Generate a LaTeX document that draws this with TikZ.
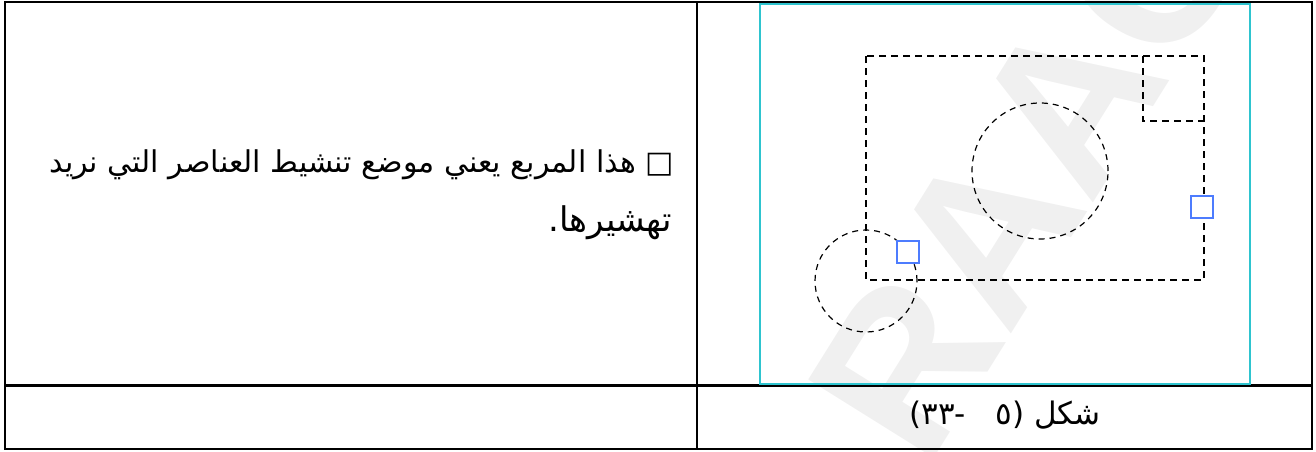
\documentclass[tikz,border=0pt]{standalone}
\usepackage{fontspec}
\usepackage{xcolor}
\usetikzlibrary{positioning,calc}
\TeXXeTstate=1
\newfontfamily\arabicfont[Script=Arabic]{DejaVu Sans}
\newfontfamily\markfont{Liberation Sans}
\definecolor{ink}{HTML}{000000}
\definecolor{frame}{HTML}{2EC4CF}
\definecolor{grip}{HTML}{4D7CFE}
\definecolor{wmark}{HTML}{F0F0F0}
\tikzset{
  cell/.style={draw=ink,line width=2.2pt},
  shot/.style={draw=frame,line width=1.8pt},
  outline/.style={draw=ink,line width=1.6pt,dash pattern=on 7pt off 5pt},
  ring/.style={draw=ink,line width=1.2pt,dash pattern=on 6pt off 5pt},
  handle/.style={draw=grip,fill=white,line width=2pt,minimum size=22pt,inner sep=0pt},
  note/.style={font=\arabicfont\fontsize{30}{36}\selectfont,inner sep=0pt},
  caption/.style={font=\arabicfont\fontsize{31}{36}\selectfont,inner sep=0pt},
  stamp/.style={font=\markfont\bfseries\fontsize{215}{215}\selectfont,text=wmark,inner sep=0pt}
}
\begin{document}
\begin{tikzpicture}[x=1pt,y=-1pt]
  \useasboundingbox (0,0) rectangle (1316,452);
  % watermark
  \begin{scope}
    \clip (0,0) rectangle (1316,452);
    \node[stamp,rotate=58] (mark) at (1028,168) {RAAC};
  \end{scope}
  % table
  \draw[cell] (5,2) rectangle (1312,449);
  \draw[cell] (697,2) -- (697,449);
  \draw[cell] (5,385.5) -- (1312,385.5);
  % screenshot
  \draw[shot] (760,4) rectangle (1250,384);
  \draw[outline] (866,56) rectangle (1204,280);
  \draw[outline] (1143,56) -- (1143,121) -- (1204,121);
  \draw[ring] (1040,171) circle[radius=68pt];
  \draw[ring] (866,281) circle[radius=51pt];
  \node[handle] (gripL) at (908,252) {};
  \node[handle] (gripR) at (1202,206.5) {};
  % texts
  \node[note,anchor=base east] (lineA) at (674,172) {\beginR □ هذا المربع يعني موضع تنشيط العناصر التي نريد\endR};
  \node[note,anchor=base east,font=\arabicfont\fontsize{34}{36}\selectfont] (lineB) at (672,231) {\beginR تهشيرها.\endR};
  \node[caption,anchor=base] (fig) at (1005,424) {\beginR شكل (٥\ \ \ -٣٣)\endR};
\end{tikzpicture}
\end{document}
